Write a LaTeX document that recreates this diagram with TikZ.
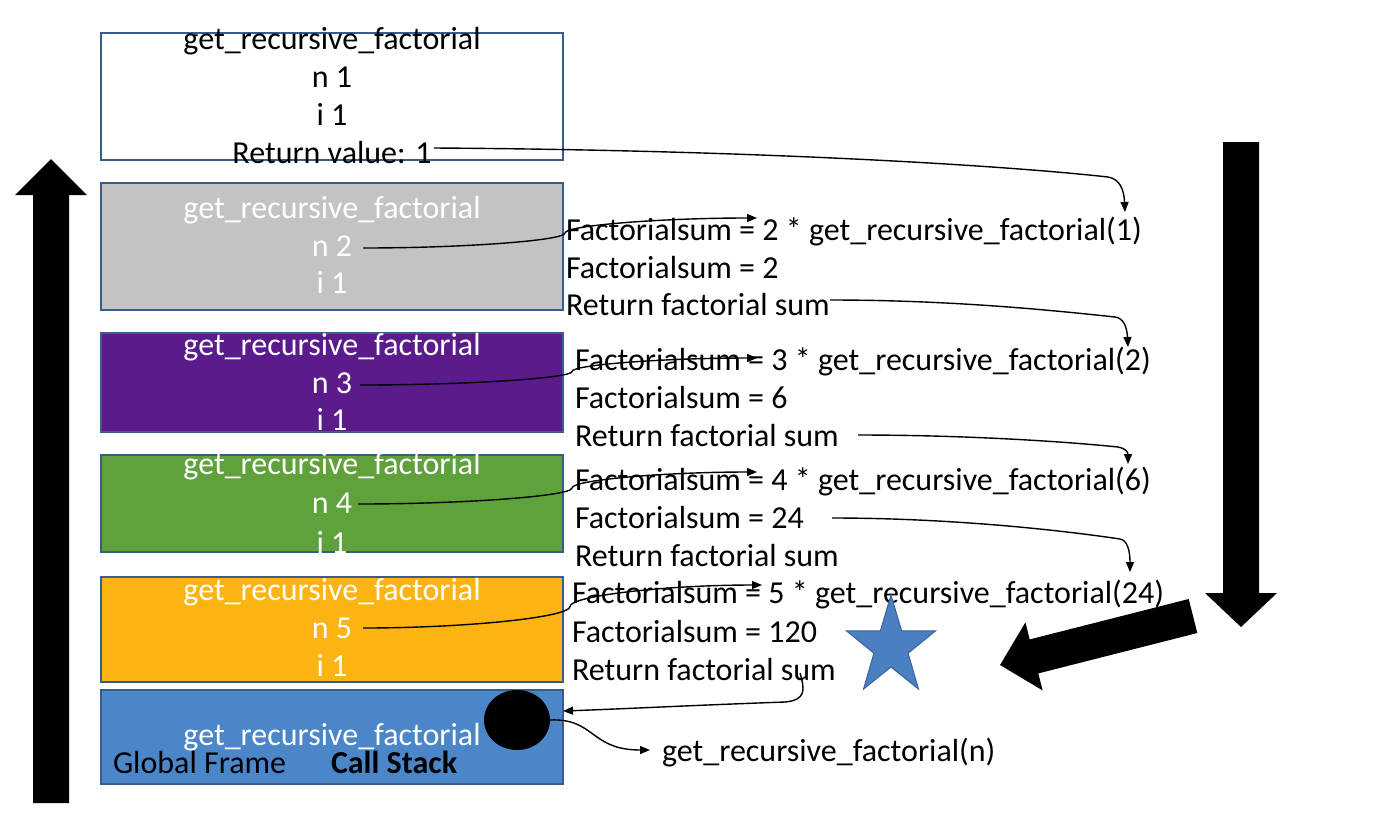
\documentclass[tikz,border=0pt]{standalone}
\usepackage{fontspec}
\setmainfont{Carlito}
\usetikzlibrary{arrows.meta,shapes.geometric}
\definecolor{frameline}{HTML}{385D8A}
\definecolor{fgray}{HTML}{C3C3C3}
\definecolor{fpurple}{HTML}{5B1B8C}
\definecolor{fgreen}{HTML}{5FA13A}
\definecolor{forange}{HTML}{FBB412}
\definecolor{fblue}{HTML}{4A86C8}
\definecolor{starfill}{HTML}{4A80C2}
\definecolor{starline}{HTML}{3A649A}
\begin{document}
\begin{tikzpicture}[x=1pt,y=-1pt,
  every node/.style={inner sep=0pt,outer sep=0pt},
  frame/.style={rectangle,draw=frameline,line width=1.6pt,minimum width=462pt},
  lab/.style={font=\fontsize{32}{38.4}\selectfont,anchor=base},
  labw/.style={lab,anchor=base west},
  wlab/.style={lab,text=white},
  conn/.style={line width=1.4pt,-{Triangle[length=10pt,width=8pt]}},
  bigarrow/.style={fill=black}]
\useasboundingbox (0,0) rectangle (1396,820);

% frames
\node[frame,fill=white,minimum height=127pt] (f1) at (332,96.5) {};
\node[frame,fill=fgray,minimum height=127pt] (f2) at (332,246.5) {};
\node[frame,fill=fpurple,minimum height=99pt] (f3) at (332,382.5) {};
\node[frame,fill=fgreen,minimum height=97pt] (f4) at (332,503.5) {};
\node[frame,fill=forange,minimum height=105pt] (f5) at (332,629.5) {};
\node[frame,fill=fblue,minimum height=94pt] (f6) at (332,737) {};
\node[ellipse,fill=black,minimum width=66pt,minimum height=60pt] (dot) at (517,720) {};

% frame texts
\node[lab] (t1a) at (332,49) {get\_recursive\_factorial};
\node[lab] (t1b) at (332,87) {n 1};
\node[lab] (t1c) at (332,125) {i 1};
\node[lab] (t1d) at (332,163) {Return value: 1};

\node[wlab] (t2a) at (332,218) {get\_recursive\_factorial};
\node[wlab] (t2b) at (332,256) {n 2};
\node[wlab] (t2c) at (332,293) {i 1};

\node[wlab] (t3a) at (332,355) {get\_recursive\_factorial};
\node[wlab] (t3b) at (332,393) {n 3};
\node[wlab] (t3c) at (332,430) {i 1};

\node[wlab] (t4a) at (332,474) {get\_recursive\_factorial};
\node[wlab] (t4b) at (332,513) {n 4};
\node[wlab] (t4c) at (332,553) {i 1};

\node[wlab] (t5a) at (332,600) {get\_recursive\_factorial};
\node[wlab] (t5b) at (332,638) {n 5};
\node[wlab] (t5c) at (332,676) {i 1};

\node[wlab] (t6a) at (332,745) {get\_recursive\_factorial};
\node[labw] (gf) at (113,773) {Global Frame};
\node[labw,font=\fontsize{32}{38.4}\selectfont\bfseries] (cs) at (331,773) {Call Stack};

% right texts
\node[labw] (r2a) at (566,240) {Factorialsum = 2 * get\_recursive\_factorial(1)};
\node[labw] (r2b) at (566,278) {Factorialsum = 2};
\node[labw] (r2c) at (566,315) {Return factorial sum};

\node[labw] (r3a) at (575,370) {Factorialsum = 3 * get\_recursive\_factorial(2)};
\node[labw] (r3b) at (575,408) {Factorialsum = 6};
\node[labw] (r3c) at (575,446) {Return factorial sum};

\node[labw] (r4a) at (575,490) {Factorialsum = 4 * get\_recursive\_factorial(6)};
\node[labw] (r4b) at (575,528) {Factorialsum = 24};
\node[labw] (r4c) at (575,566) {Return factorial sum};

\node[labw] (r5a) at (572,603) {Factorialsum = 5 * get\_recursive\_factorial(24)};
\node[labw] (r5b) at (572,642) {Factorialsum = 120};
\node[labw] (r5c) at (572,680) {Return factorial sum};

\node[labw] (call) at (662,761) {get\_recursive\_factorial(n)};

% star
\filldraw[fill=starfill,draw=starline,line width=1pt]
  (891,595) -- (901.6,630.8) -- (935.5,630.9) -- (908.1,653.2) -- (918.5,689.1)
  -- (891,667) -- (863.5,689.1) -- (873.9,653.2) -- (846.5,630.9) -- (880.4,630.8) -- cycle;

% big arrows
\fill[bigarrow] (33,803) -- (33,195) -- (15,195) -- (51,159) -- (87,195) -- (69,195) -- (69,803) -- cycle;
\fill[bigarrow] (1223,142) -- (1259,142) -- (1259,593) -- (1277,593) -- (1241,627) -- (1205,593) -- (1223,593) -- cycle;
\fill[bigarrow] (1188.7,599) -- (1197.3,633) -- (1038.3,673.4) -- (1042.6,690.4) -- (1000,665)
  -- (1025.4,622.4) -- (1029.7,639.4) -- cycle;

% connector end points
\coordinate (s1) at (434,148);  \coordinate (e1) at (1125,212);
\coordinate (s2) at (363,248);  \coordinate (e2) at (757,218);
\coordinate (s3) at (830,300);  \coordinate (e3) at (1128,347);
\coordinate (s4) at (360,385);  \coordinate (e4) at (757,358);
\coordinate (s5) at (858,435);  \coordinate (e5) at (1128,464);
\coordinate (s6) at (358,504);  \coordinate (e6) at (757,472);
\coordinate (s7) at (832,518);  \coordinate (e7) at (1130,572);
\coordinate (s8) at (363,628);  \coordinate (e8) at (762,585);
\coordinate (s9) at (800,673);  \coordinate (e9) at (563,711);
\coordinate (s10) at (550,720); \coordinate (e10) at (650,750);

% connectors
\draw[conn] (s1) .. controls (750,150) and (1000,165) .. (1108,177) .. controls (1120,179) and (1124,190) .. (e1);
\draw[conn] (s2) .. controls (464,248) and (565,240.5) .. (565,233) .. controls (565,225.5) and (661,218) .. (e2);
\draw[conn] (s3) .. controls (950,300) and (1050,310) .. (1115,317) .. controls (1124,318) and (1127,328) .. (e3);
\draw[conn] (s4) .. controls (466,385) and (572,378.25) .. (572,371.5) .. controls (572,364.75) and (664.5,358) .. (e4);
\draw[conn] (s5) .. controls (960,435) and (1060,441) .. (1118,447) .. controls (1125,448) and (1128,452) .. (e5);
\draw[conn] (s6) .. controls (465,504) and (572,496) .. (572,488) .. controls (572,480) and (664.5,472) .. (e6);
\draw[conn] (s7) .. controls (950,518) and (1060,530) .. (1120,539) .. controls (1127,540) and (1130,550) .. (e7);
\draw[conn] (s8) .. controls (466.5,628) and (570,617.25) .. (570,606.5) .. controls (570,595.75) and (666,585) .. (e8);
\draw[conn] (s9) .. controls (805,690) and (806,700) .. (785,702) .. controls (700,705) and (620,709) .. (e9);
\draw[conn] (s10) .. controls (595,718) and (590,750) .. (e10);
\end{tikzpicture}
\end{document}
